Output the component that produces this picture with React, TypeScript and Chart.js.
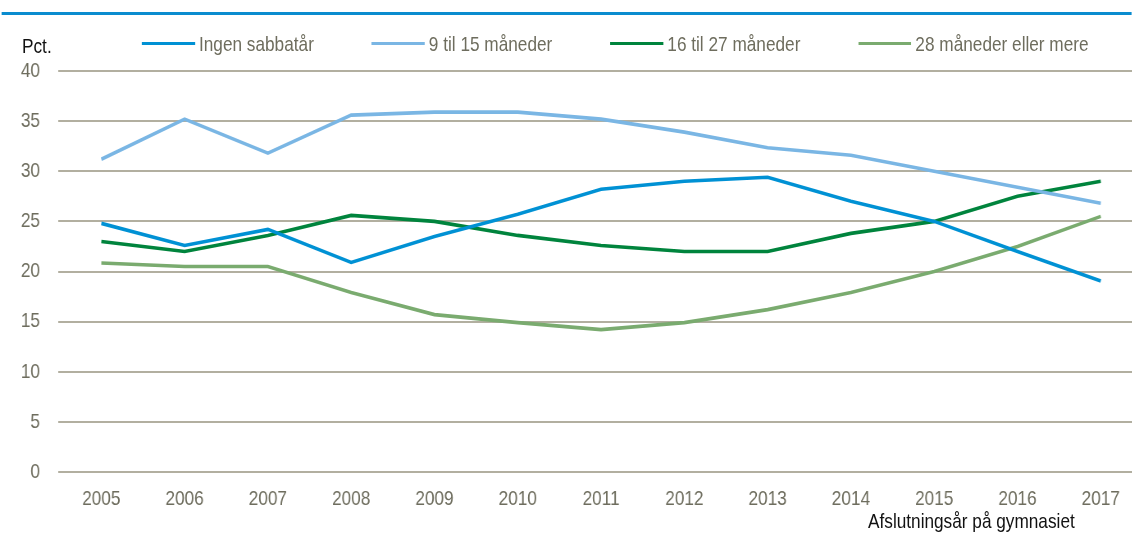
import React, { useEffect, useRef } from "react";
import { Chart, registerables } from "chart.js";

Chart.register(...registerables);

// ---- Data ----
const years = [2005, 2006, 2007, 2008, 2009, 2010, 2011, 2012, 2013, 2014, 2015, 2016, 2017];
const seriesLabels = ["Ingen sabbatår", "9 til 15 måneder", "16 til 27 måneder", "28 måneder eller mere"];
const ingenSabbat = [24.8, 22.6, 24.2, 20.9, 23.5, 25.7, 28.2, 29.0, 29.4, 27.0, 25.0, 22.0, 19.05];
const m9til15 = [31.2, 35.2, 31.8, 35.6, 35.9, 35.9, 35.2, 33.9, 32.35, 31.6, 30.0, 28.4, 26.8];
const m16til27 = [23.0, 22.0, 23.6, 25.6, 25.0, 23.6, 22.6, 22.0, 22.0, 23.8, 25.0, 27.5, 29.0];
const m28plus = [20.85, 20.5, 20.5, 17.9, 15.7, 14.9, 14.2, 14.9, 16.2, 17.9, 20.0, 22.5, 25.5];
const yTicks = [0, 5, 10, 15, 20, 25, 30, 35, 40];
const yUnit = "Pct.";
const xTitle = "Afslutningsår på gymnasiet";

const seriesValues = [ingenSabbat, m9til15, m16til27, m28plus];
const seriesColors = ["#0091d4", "#7ab6e4", "#00843d", "#7aab6f"];

// Horizontal condensing factor (the reference uses a narrow sans face)
const S = 0.82;
const W = 1132 / S;
const ux = (x: number) => x / S;

const FONT = '"Liberation Sans", Arial, sans-serif';
const TICK_COLOR = "#6e6d5e";
const GRID_COLOR = "#b2afa0";

export default function App() {
  const canvasRef = useRef<HTMLCanvasElement | null>(null);

  useEffect(() => {
    document.body.style.margin = "0";
    const canvas = canvasRef.current;
    if (!canvas) return;
    const chart = new Chart(canvas, {
      type: "line",
      data: {
        datasets: seriesLabels.map((label, i) => ({
          label,
          data: years.map((yr, j) => ({ x: yr, y: seriesValues[i][j] })),
          borderColor: seriesColors[i],
          backgroundColor: seriesColors[i],
          borderWidth: 3.6,
          pointRadius: 0,
          tension: 0,
          fill: false,
        })),
      },
      options: {
        animation: false,
        responsive: false,
        maintainAspectRatio: false,
        layout: { padding: { left: 0, right: 0, top: 71, bottom: 0 } },
        plugins: { legend: { display: false }, tooltip: { enabled: false } },
        scales: {
          x: {
            type: "linear",
            min: 2004.48,
            max: 2017.37,
            afterBuildTicks: (s: any) => {
              s.ticks = years.map((v) => ({ value: v }));
            },
            afterFit: (s: any) => {
              s.height = 61;
            },
            grid: { display: false },
            border: { display: false },
            ticks: {
              color: TICK_COLOR,
              font: { family: FONT, size: 21 },
              padding: 7,
              maxRotation: 0,
              autoSkip: false,
              callback: (v: any) => String(v),
            },
          },
          y: {
            min: 0,
            max: 40,
            afterBuildTicks: (s: any) => {
              s.ticks = yTicks.map((v) => ({ value: v }));
            },
            afterFit: (s: any) => {
              s.width = ux(58);
            },
            grid: { color: GRID_COLOR, lineWidth: 2, drawTicks: false },
            border: { display: false },
            ticks: {
              color: TICK_COLOR,
              font: { family: FONT, size: 21 },
              padding: ux(18),
              callback: (v: any) => String(v),
            },
          },
        },
      },
    });
    return () => chart.destroy();
  }, []);

  const textBase: React.CSSProperties = {
    position: "absolute",
    fontFamily: FONT,
    fontSize: 21,
    lineHeight: "21px",
    whiteSpace: "nowrap",
  };

  return (
    <div style={{ position: "relative", width: 1132, height: 533, overflow: "hidden", background: "#fff" }}>
      <div
        style={{
          position: "absolute",
          left: 0,
          top: 0,
          width: W,
          height: 533,
          transform: `scaleX(${S})`,
          transformOrigin: "0 0",
        }}
      >
        <canvas
          ref={canvasRef}
          width={Math.round(W)}
          height={533}
          style={{ position: "absolute", left: 0, top: 0, width: Math.round(W), height: 533 }}
        />
        <div style={{ position: "absolute", left: ux(2), top: 12, width: ux(1130), height: 3, background: "#0a8ccf" }} />
        <div style={{ ...textBase, left: ux(22), top: 35, color: "#111" }}>{yUnit}</div>
        <div style={{ position: "absolute", left: ux(142), top: 33, display: "flex", alignItems: "center", gap: ux(58) }}>
          {seriesLabels.map((label, i) => (
            <div key={label} style={{ display: "flex", alignItems: "center" }}>
              <span
                style={{ display: "inline-block", width: ux(53), height: 3.6, background: seriesColors[i], marginRight: ux(4) }}
              />
              <span style={{ fontFamily: FONT, fontSize: 21, lineHeight: "21px", color: TICK_COLOR, whiteSpace: "nowrap" }}>
                {label}
              </span>
            </div>
          ))}
        </div>
        <div style={{ ...textBase, left: ux(868), top: 510, color: "#111" }}>{xTitle}</div>
      </div>
    </div>
  );
}
